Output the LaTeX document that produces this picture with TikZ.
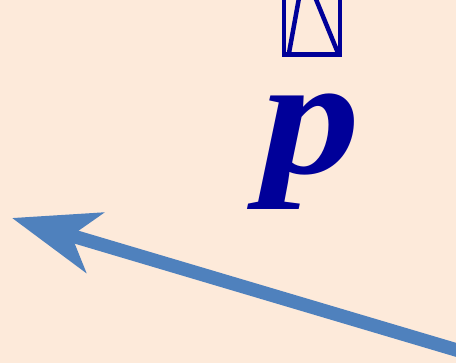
\documentclass[tikz,border=0pt]{standalone}
\usepackage{fontspec}
\setmainfont{Liberation Serif}
\usetikzlibrary{arrows.meta}
\definecolor{paper}{RGB}{253,234,218}
\definecolor{ink}{RGB}{0,0,153}
\definecolor{pointer}{RGB}{79,129,189}
\begin{document}
\begin{tikzpicture}[x=1pt,y=-1pt]
\fill[paper] (0,0) rectangle (456,363);
\useasboundingbox (0,0) rectangle (456,363);
\clip (0,0) rectangle (456,363);
% cut-off symbol at the top
\draw[ink, line width=4.5pt] (284,-5) -- (284,54.5) -- (340,54.5) -- (340,-5);
\draw[ink, line width=4.5pt] (289,53) -- (299,-2);
\draw[ink, line width=4.5pt] (338,53) -- (313,-8);
\node[text=ink, inner sep=0pt, anchor=base, xscale=1.17] (p) at (311,174) {\fontsize{169}{169}\selectfont\bfseries\itshape p};
\coordinate (tail) at (470,354);
\coordinate (tip) at (12,218);
\draw[pointer, line width=13.5pt, -{Stealth[length=86pt,width=62pt,inset=24pt]}] (tail) -- (tip);
\end{tikzpicture}
\end{document}
